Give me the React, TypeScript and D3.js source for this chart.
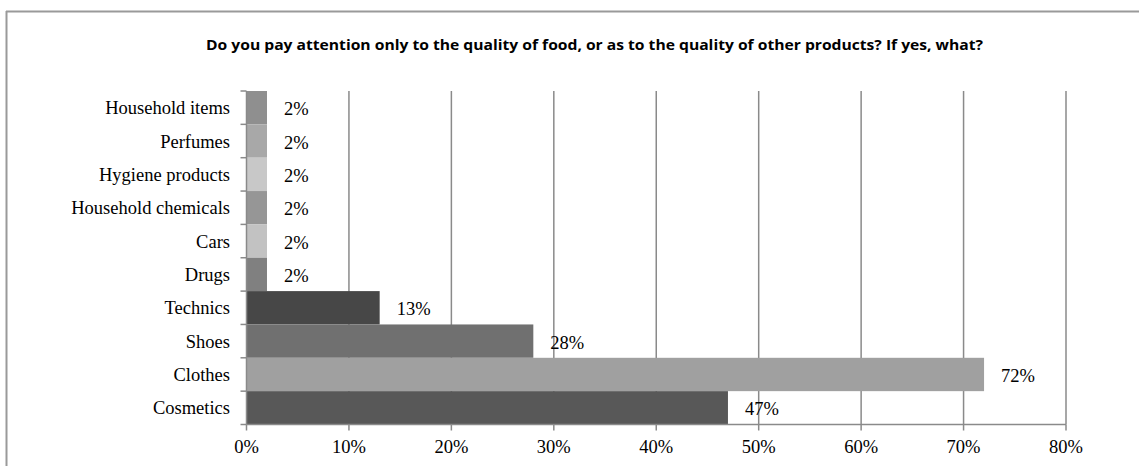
import React from "react";
import * as d3 from "d3";

const categories = ["Household items", "Perfumes", "Hygiene products", "Household chemicals", "Cars", "Drugs", "Technics", "Shoes", "Clothes", "Cosmetics"];
const values = [2, 2, 2, 2, 2, 2, 13, 28, 72, 47];
const barColors = ["#8f8f8f", "#a8a8a8", "#c8c8c8", "#969696", "#c2c2c2", "#808080", "#474747", "#707070", "#a0a0a0", "#585858"];
const xTicks = [0, 10, 20, 30, 40, 50, 60, 70, 80];
const title = "Do you pay attention only to the quality of food, or as to the quality of other products? If yes, what?";

export default function App() {
  const W = 1139, H = 466;
  const left = 246.5, right = 1066, top = 91, bottom = 424.5;
  const x = d3.scaleLinear().domain([0, 80]).range([left, right]);
  const y = d3.scaleBand<string>().domain(categories).range([top, bottom]).padding(0);
  const bw = y.bandwidth();
  const serif = "'Liberation Serif', 'Times New Roman', Times, serif";
  const grid = "#8a8a8a";
  const fs = 18.5;
  const boundaries = categories.map((c) => y(c)!).concat([bottom]);
  return (
    <svg width={W} height={H} style={{ position: "absolute", left: 0, top: 0, background: "#fff" }}>
      <rect x={0} y={0} width={W} height={H} fill="#fff" />
      <line x1={6} x2={W} y1={11.5} y2={11.5} stroke="#9a9a9a" strokeWidth={2} />
      <line x1={6.5} x2={6.5} y1={11} y2={H} stroke="#9a9a9a" strokeWidth={2} />
      <text x={(206 + 983) / 2} y={50} textAnchor="middle" fontFamily="'Open Sans', 'Liberation Sans', sans-serif" fontWeight="bold" fontSize={13.5} textLength={777} lengthAdjust="spacingAndGlyphs" fill="#000">{title}</text>
      {xTicks.filter((t) => t > 0).map((t) => (
        <line key={"g" + t} x1={x(t)} x2={x(t)} y1={top} y2={bottom} stroke={grid} strokeWidth={1.5} />
      ))}
      {categories.map((c, i) => (
        <rect key={c} x={x(0)} y={y(c)!} width={x(values[i]) - x(0)} height={bw} fill={barColors[i]} />
      ))}
      <line x1={left} x2={left} y1={top} y2={bottom} stroke={grid} strokeWidth={1.5} />
      <line x1={left} x2={right} y1={bottom} y2={bottom} stroke={grid} strokeWidth={1.5} />
      {boundaries.map((b, i) => (
        <line key={"yt" + i} x1={left - 6} x2={left} y1={b} y2={b} stroke={grid} strokeWidth={1.5} />
      ))}
      {xTicks.map((t) => (
        <line key={"xt" + t} x1={x(t)} x2={x(t)} y1={bottom} y2={bottom + 6} stroke={grid} strokeWidth={1.5} />
      ))}
      {xTicks.map((t) => (
        <text key={"xl" + t} x={x(t)} y={453} textAnchor="middle" fontFamily={serif} fontSize={fs} fill="#000">{t + "%"}</text>
      ))}
      {categories.map((c) => (
        <text key={"cl" + c} x={230} y={y(c)! + bw / 2 + 6.5} textAnchor="end" fontFamily={serif} fontSize={fs} fill="#000">{c}</text>
      ))}
      {categories.map((c, i) => (
        <text key={"vl" + c} x={x(values[i]) + 17} y={y(c)! + bw / 2 + 7.5} textAnchor="start" fontFamily={serif} fontSize={fs} fill="#000">{values[i] + "%"}</text>
      ))}
    </svg>
  );
}
